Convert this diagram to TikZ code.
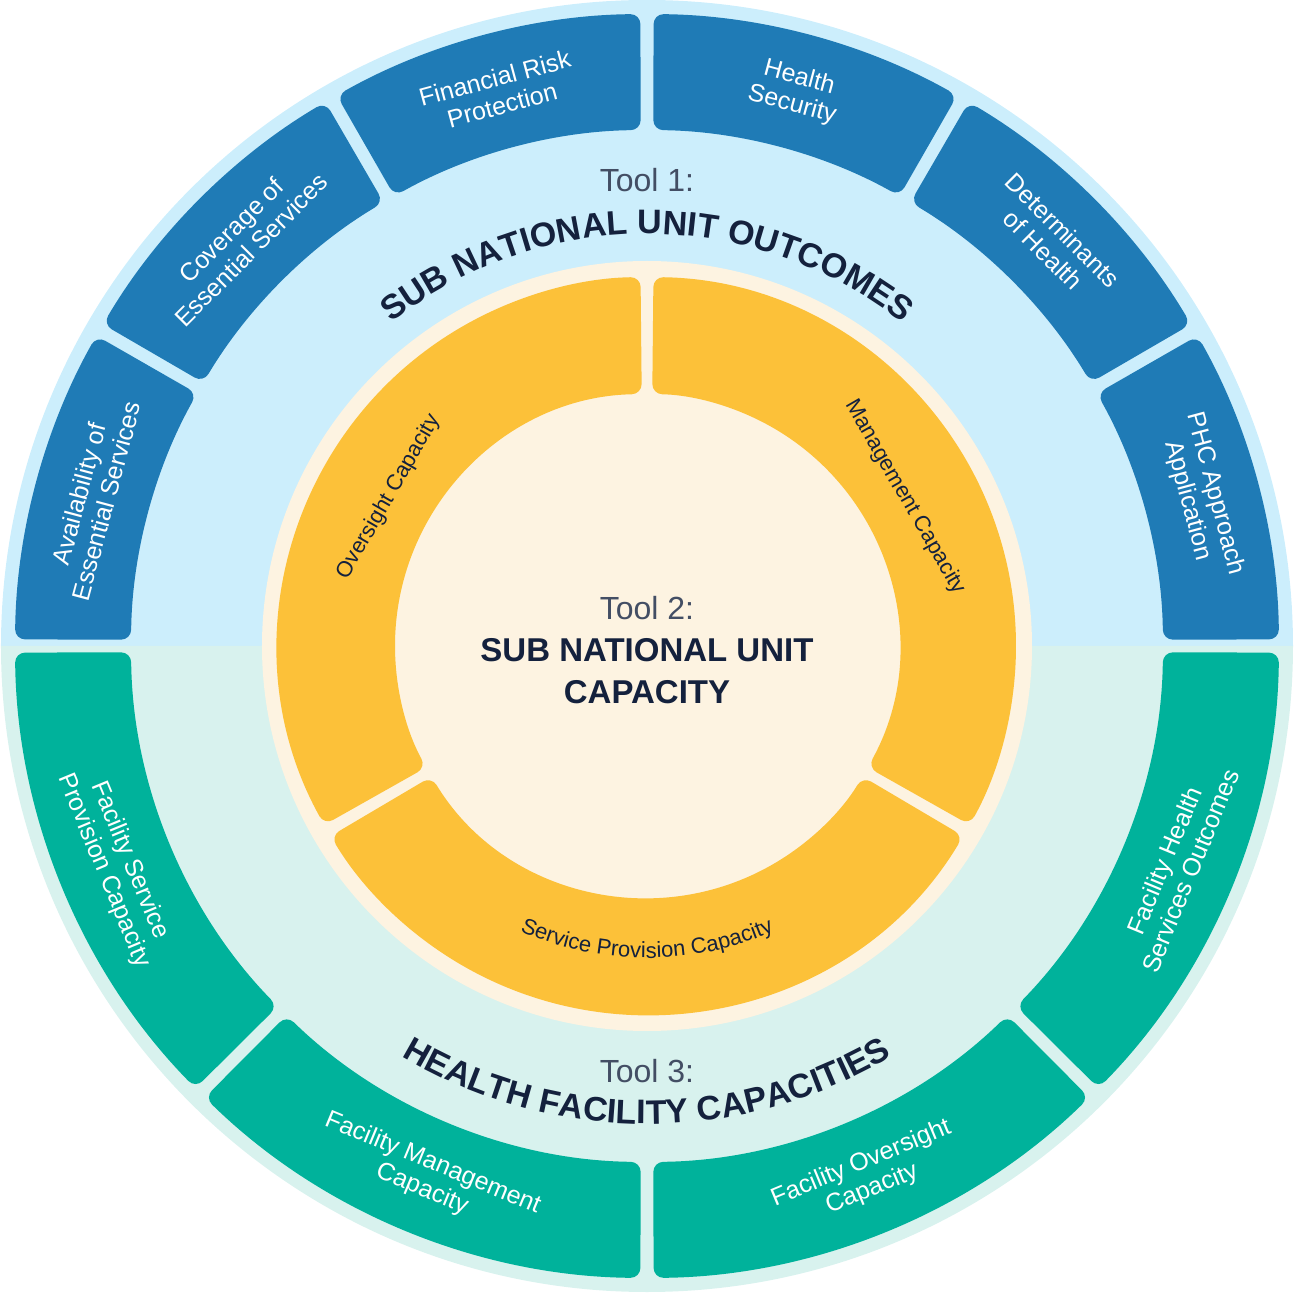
\documentclass[tikz,border=0pt]{standalone}
\usepackage{fontspec}
\setmainfont{Liberation Sans}
\usetikzlibrary{decorations.text}
\definecolor{segblue}{HTML}{1F7BB6}
\definecolor{seggreen}{HTML}{00B29B}
\definecolor{bgblue}{HTML}{CCEEFC}
\definecolor{bggreen}{HTML}{D8F2EE}
\definecolor{ylw}{HTML}{FCC139}
\definecolor{cream}{HTML}{FDF3E1}
\definecolor{navy}{HTML}{14213D}
\newcommand\annseg[5]{\fill[#1,rounded corners=10pt] (#2+0.7:#4) arc[start angle=#2+0.7,end angle=#3-0.7,radius=#4] -- (#3-0.6:#5) arc[start angle=#3-0.6,end angle=#2+0.6,radius=#5] -- cycle;}
\newcommand\yseg[3]{\fill[ylw,rounded corners=10pt] (#1+1.2:252) arc[start angle=#1+1.2,end angle=#2-1.2,radius=252] -- (#2-1.0:#3) arc[start angle=#2-1.0,end angle=#1+1.0,radius=#3] -- cycle;}
\tikzset{
 seglbl/.style={text=white,align=center,font=\fontsize{25}{28}\selectfont},
 ylbl/.style={text=navy,font=\fontsize{22}{26}\selectfont},
 tool/.style={text=navy!80,font=\fontsize{32}{36}\selectfont}
}
\begin{document}
\begin{tikzpicture}[x=1pt,y=1pt]
\useasboundingbox (-647,-647) rectangle (647,646);
\fill[bgblue] (0:646) arc[start angle=0,end angle=180,radius=646] -- cycle;
\fill[bggreen] (180:646) arc[start angle=180,end angle=360,radius=646] -- cycle;
\annseg{segblue}{0}{30}{516}{632}
\annseg{segblue}{30}{60}{516}{632}
\annseg{segblue}{60}{90}{516}{632}
\annseg{segblue}{90}{120}{516}{632}
\annseg{segblue}{120}{150}{516}{632}
\annseg{segblue}{150}{180}{516}{632}
\annseg{seggreen}{180}{225}{516}{632}
\annseg{seggreen}{225}{270}{516}{632}
\annseg{seggreen}{270}{315}{516}{632}
\annseg{seggreen}{315}{360}{516}{632}
\fill[cream] (0,0) circle (385);
\yseg{90}{210}{369}
\yseg{210}{330}{369}
\yseg{330}{450}{369}
\node[seglbl,rotate=-75] (phc) at (15:574) {PHC Approach\\Application};
\node[seglbl,rotate=-45] (det) at (45:574) {Determinants\\of Health};
\node[seglbl,rotate=-15] (hs) at (75:574) {Health\\Security};
\node[seglbl,rotate=15] (frp) at (105:574) {Financial Risk\\Protection};
\node[seglbl,rotate=45] (cov) at (135:574) {Coverage of\\Essential Services};
\node[seglbl,rotate=75] (av) at (165:574) {Availability of\\Essential Services};
\node[seglbl,rotate=-67.5] (fsp) at (202.5:574) {Facility Service\\Provision Capacity};
\node[seglbl,rotate=-22.5] (fmc) at (247.5:574) {Facility Management\\Capacity};
\node[seglbl,rotate=22.5] (foc) at (292.5:574) {Facility Oversight\\Capacity};
\node[seglbl,rotate=67.5] (fhs) at (337.5:574) {Facility Health\\Services Outcomes};
\node[ylbl,rotate=60] (ov) at (150:298) {Oversight Capacity};
\node[ylbl,rotate=-60] (mg) at (30:298) {Management Capacity};
\path[decorate,decoration={text along path,text align=center,
 text={|\fontsize{22}{26}\selectfont\color{navy}|Service Provision Capacity}}]
 (240:312) arc[start angle=240,end angle=300,radius=312];
\node[tool] (t1) at (0,466) {Tool 1:};
\node[tool] (t2) at (0,38) {Tool 2:};
\node[text=navy,align=center,font=\fontsize{33}{42}\selectfont\bfseries] (t2b) at (0,-25) {SUB NATIONAL UNIT\\CAPACITY};
\node[tool] (t3) at (0,-425) {Tool 3:};
\path[decorate,decoration={text along path,text align=center,
 text={|\fontsize{34}{40}\selectfont\bfseries\color{navy}|SUB NATIONAL UNIT OUTCOMES}}]
 (150:412) arc[start angle=150,end angle=30,radius=412];
\path[decorate,decoration={text along path,text align=center,
 text={|\fontsize{34}{40}\selectfont\bfseries\color{navy}|HEALTH FACILITY CAPACITIES}}]
 (215:478) arc[start angle=215,end angle=325,radius=478];
\end{tikzpicture}
\end{document}
